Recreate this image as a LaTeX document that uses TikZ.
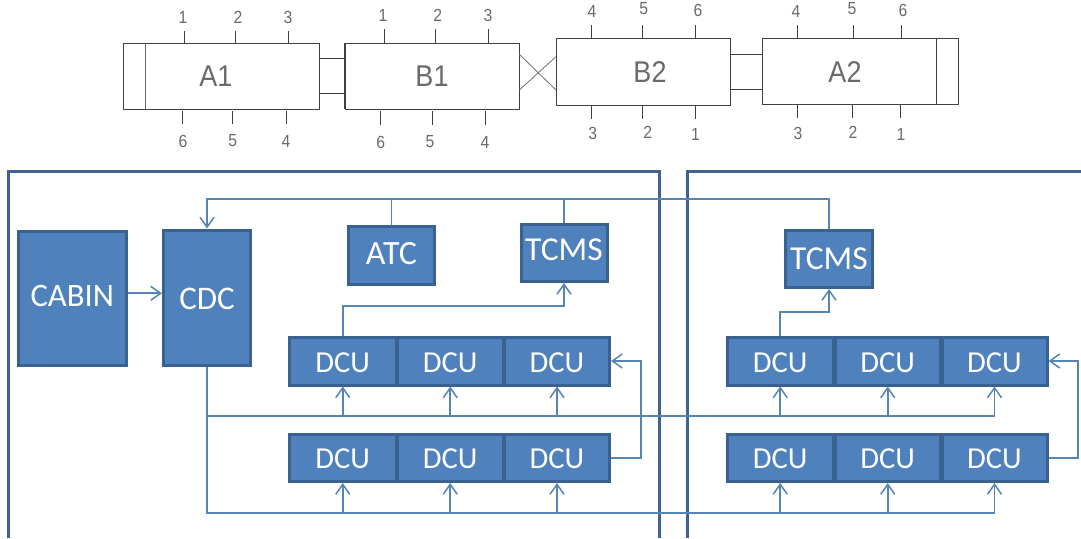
\documentclass[tikz,border=0pt]{standalone}
\usepackage{fontspec}
\setmainfont{Carlito}
\newfontfamily\cadfont[FakeStretch=0.9]{Liberation Sans}
\usetikzlibrary{arrows.meta}
\definecolor{boxfill}{HTML}{4F81BD}
\definecolor{boxedge}{HTML}{3A6290}
\definecolor{frameblue}{HTML}{3F6392}
\definecolor{wireblue}{HTML}{5585B5}
\definecolor{cadline}{HTML}{404040}
\definecolor{cadtext}{HTML}{6A6A6A}
\tikzset{
  bluebox/.style={draw=boxedge,fill=boxfill,line width=3pt,inner sep=0pt,text=white,
    text height=20pt,text depth=0pt,align=center},
  cadbox/.style={draw=cadline,line width=.9pt,inner sep=0pt,outer sep=0pt},
  cadname/.style={text=cadtext,inner sep=0pt,font=\cadfont\fontsize{30}{30}\selectfont},
  pinlabel/.style={text=cadtext,inner sep=0pt,font=\cadfont\fontsize{17.5}{17.5}\selectfont},
  tickline/.style={draw=cadline,line width=1pt},
  coupler/.style={draw=cadline,line width=1pt},
  xline/.style={draw=cadline!75,line width=.8pt},
  frameline/.style={draw=frameblue,line width=3pt,line join=miter},
  wire/.style={draw=wireblue,line width=1.7pt,line join=miter},
  wirearrow/.style={wire,-{Straight Barb[length=10pt,width=14pt,line width=1.5pt]}}
}
% name, x1, y1, x2, y2, style, text
\newcommand{\rectnode}[7]{%
  \node[#6,minimum width={#4-#2},minimum height={#5-#3}] (#1) at ({(#2+#4)/2},{(#3+#5)/2}) {#7};}
% name, x1, y1, x2, y2, text, font size, raise
\newcommand{\bluenode}[8]{%
  \node[bluebox,font=\fontsize{#7}{#7}\selectfont,minimum width={#4-#2-3},minimum height={#5-#3-3}] (#1) at ({(#2+#4)/2},{(#3+#5)/2}) {\raisebox{#8pt}{#6}};}
% name, tick x, y1, y2, label x, label y, text
\newcommand{\pinmark}[7]{%
  \coordinate (#1-a) at (#2,#3);
  \coordinate (#1-b) at (#2,#4);
  \draw[tickline] (#1-a) -- (#1-b);
  \node[pinlabel] (#1) at (#5,#6) {#7};}
\begin{document}
\begin{tikzpicture}[x=1pt,y=-1pt]
\useasboundingbox (0,0) rectangle (1081,538);
% --- train ---
\rectnode{a1}{123.3}{43}{319.3}{109}{cadbox}{}
\rectnode{b1}{345}{43}{519.3}{109}{cadbox}{}
\rectnode{b2}{556}{38.7}{730}{105.3}{cadbox}{}
\rectnode{a2}{762.3}{38}{958.7}{104.3}{cadbox}{}
\draw[cadline!80,line width=1.1pt] (a1.north west -| 145.5,0) -- (a1.south west -| 145.5,0);
\draw[cadline,line width=1.1pt] (a2.north west -| 936.7,0) -- (a2.south west -| 936.7,0);
\draw[cadline,line width=1.6pt] (b1.north west) -- (b1.south west);
\node[cadname] (a1lab) at (216,76) {A1};
\node[cadname] (b1lab) at (432,76) {B1};
\node[cadname] (b2lab) at (650,72) {B2};
\node[cadname] (a2lab) at (845,72) {A2};
\draw[coupler] (a1.east |- 0,58.7) -- (b1.west |- 0,58.7);
\draw[coupler] (a1.east |- 0,93.7) -- (b1.west |- 0,93.7);
\draw[coupler] (b2.east |- 0,54.3) -- (a2.west |- 0,54.3);
\draw[coupler] (b2.east |- 0,89.3) -- (a2.west |- 0,89.3);
\draw[xline] (b1.east |- 0,54.3) -- (b2.west |- 0,90);
\draw[xline] (b1.east |- 0,90) -- (b2.west |- 0,56.7);
% pins
\pinmark{pa1}{184.7}{31}{43}{183}{17.5}{1}
\pinmark{pa2}{235.3}{31}{43}{238}{17.5}{2}
\pinmark{pa3}{288.3}{31}{43}{288}{17.5}{3}
\pinmark{pa6}{182.3}{111}{124}{183}{141}{6}
\pinmark{pa5}{232.7}{111}{124}{232.7}{141}{5}
\pinmark{pa4}{286}{111}{124}{286}{141}{4}
\pinmark{pb1}{384.7}{29}{43}{383}{15}{1}
\pinmark{pb2}{435.3}{29}{43}{437.7}{15}{2}
\pinmark{pb3}{488.7}{29}{43}{488}{15}{3}
\pinmark{pb6}{380.3}{111}{125}{380.7}{142}{6}
\pinmark{pb5}{432}{111}{125}{430}{142}{5}
\pinmark{pb4}{485}{111}{125}{485}{142}{4}
\pinmark{pc4}{591.3}{25}{38.7}{592}{11.5}{4}
\pinmark{pc5}{642}{25}{38.7}{643.7}{9}{5}
\pinmark{pc6}{695}{25}{38.7}{698}{10}{6}
\pinmark{pc3}{591.3}{105.3}{119}{592.7}{133}{3}
\pinmark{pc2}{642}{105.3}{119}{647.7}{132.5}{2}
\pinmark{pc1}{695}{105.3}{119}{695.5}{134}{1}
\pinmark{pd4}{797.7}{25}{38}{796}{11.5}{4}
\pinmark{pd5}{853}{25}{38}{852}{9}{5}
\pinmark{pd6}{901.3}{25}{38}{903}{10}{6}
\pinmark{pd3}{797.7}{104.3}{118}{798}{133}{3}
\pinmark{pd2}{852.3}{104.3}{118}{853}{132.5}{2}
\pinmark{pd1}{900.7}{104.3}{118}{901}{134}{1}
% --- frames ---
\coordinate (fl1) at (8.5,538); \coordinate (fl2) at (8.5,171); \coordinate (fl3) at (659,171); \coordinate (fl4) at (659,538);
\coordinate (fr1) at (687.7,538); \coordinate (fr2) at (687.7,171); \coordinate (fr3) at (1081,171);
\draw[frameline] (fl1) -- (fl2) -- (fl3) -- (fl4);
\draw[frameline] (fr1) -- (fr2) -- (fr3);
% --- blue boxes ---
\bluenode{cabin}{17}{229.5}{127.5}{367}{CABIN}{32.7}{1.3}
\bluenode{cdc}{162}{228.5}{252}{367}{CDC}{33}{-1.5}
\bluenode{atc}{347}{225}{436}{285.5}{ATC}{34}{0.8}
\bluenode{tcmsa}{519.5}{222.5}{608.5}{283}{TCMS}{33.5}{2.3}
\bluenode{tcmsb}{784}{228.5}{874}{289}{TCMS}{33.5}{-0.5}
\bluenode{da1}{288}{335.5}{397.5}{386.5}{DCU}{30.5}{-1}
\bluenode{da2}{396}{335.5}{504.5}{386.5}{DCU}{30.5}{-1}
\bluenode{da3}{503}{335.5}{611}{386.5}{DCU}{30.5}{-1}
\bluenode{db1}{288}{432.5}{397.5}{483}{DCU}{30.5}{-1}
\bluenode{db2}{396}{432.5}{504.5}{483}{DCU}{30.5}{-1}
\bluenode{db3}{503}{432.5}{611}{483}{DCU}{30.5}{-1}
\bluenode{dc1}{725.5}{335.5}{835}{386.5}{DCU}{30.5}{-1}
\bluenode{dc2}{833.5}{335.5}{942}{386.5}{DCU}{30.5}{-1}
\bluenode{dc3}{940.5}{335.5}{1048.5}{386.5}{DCU}{30.5}{-1}
\bluenode{dd1}{725.5}{432.5}{835}{483}{DCU}{30.5}{-1}
\bluenode{dd2}{833.5}{432.5}{942}{483}{DCU}{30.5}{-1}
\bluenode{dd3}{940.5}{432.5}{1048.5}{483}{DCU}{30.5}{-1}
% --- wires ---
\draw[wirearrow] (cabin.east |- 0,293.3) -- (cdc.west |- 0,293.3);
\draw[wirearrow] (tcmsb.north) -- (tcmsb.north |- 0,198.7) -- (cdc.north |- 0,198.7) -- (cdc.north);
\draw[wire] (atc.north) -- (atc.north |- 0,198.7);
\draw[wire] (tcmsa.north) -- (tcmsa.north |- 0,198.7);
\draw[wirearrow] (da1.north) -- (da1.north |- 0,306) -- (tcmsa.south |- 0,306) -- (tcmsa.south);
\draw[wirearrow] (dc1.north) -- (dc1.north |- 0,312) -- (tcmsb.south |- 0,312) -- (tcmsb.south);
% buses
\draw[wirearrow] (cdc.south) -- (cdc.south |- 0,513.3) -- (dd3.south |- 0,513.3) -- (dd3.south);
\draw[wirearrow] (cdc.south |- 0,416) -- (dc3.south |- 0,416) -- (dc3.south);
\foreach \n in {da1,da2,da3,dc1,dc2}
  \draw[wirearrow] (\n.south |- 0,416) -- (\n.south);
\foreach \n in {db1,db2,db3,dd1,dd2}
  \draw[wirearrow] (\n.south |- 0,513.3) -- (\n.south);
% feedback
\coordinate (fba) at (641,0);
\coordinate (fbb) at (1078.3,0);
\draw[wirearrow] (db3.east) -- (fba |- db3.east) -- (fba |- da3.east) -- (da3.east);
\draw[wirearrow] (dd3.east) -- (fbb |- dd3.east) -- (fbb |- dc3.east) -- (dc3.east);
\end{tikzpicture}
\end{document}
